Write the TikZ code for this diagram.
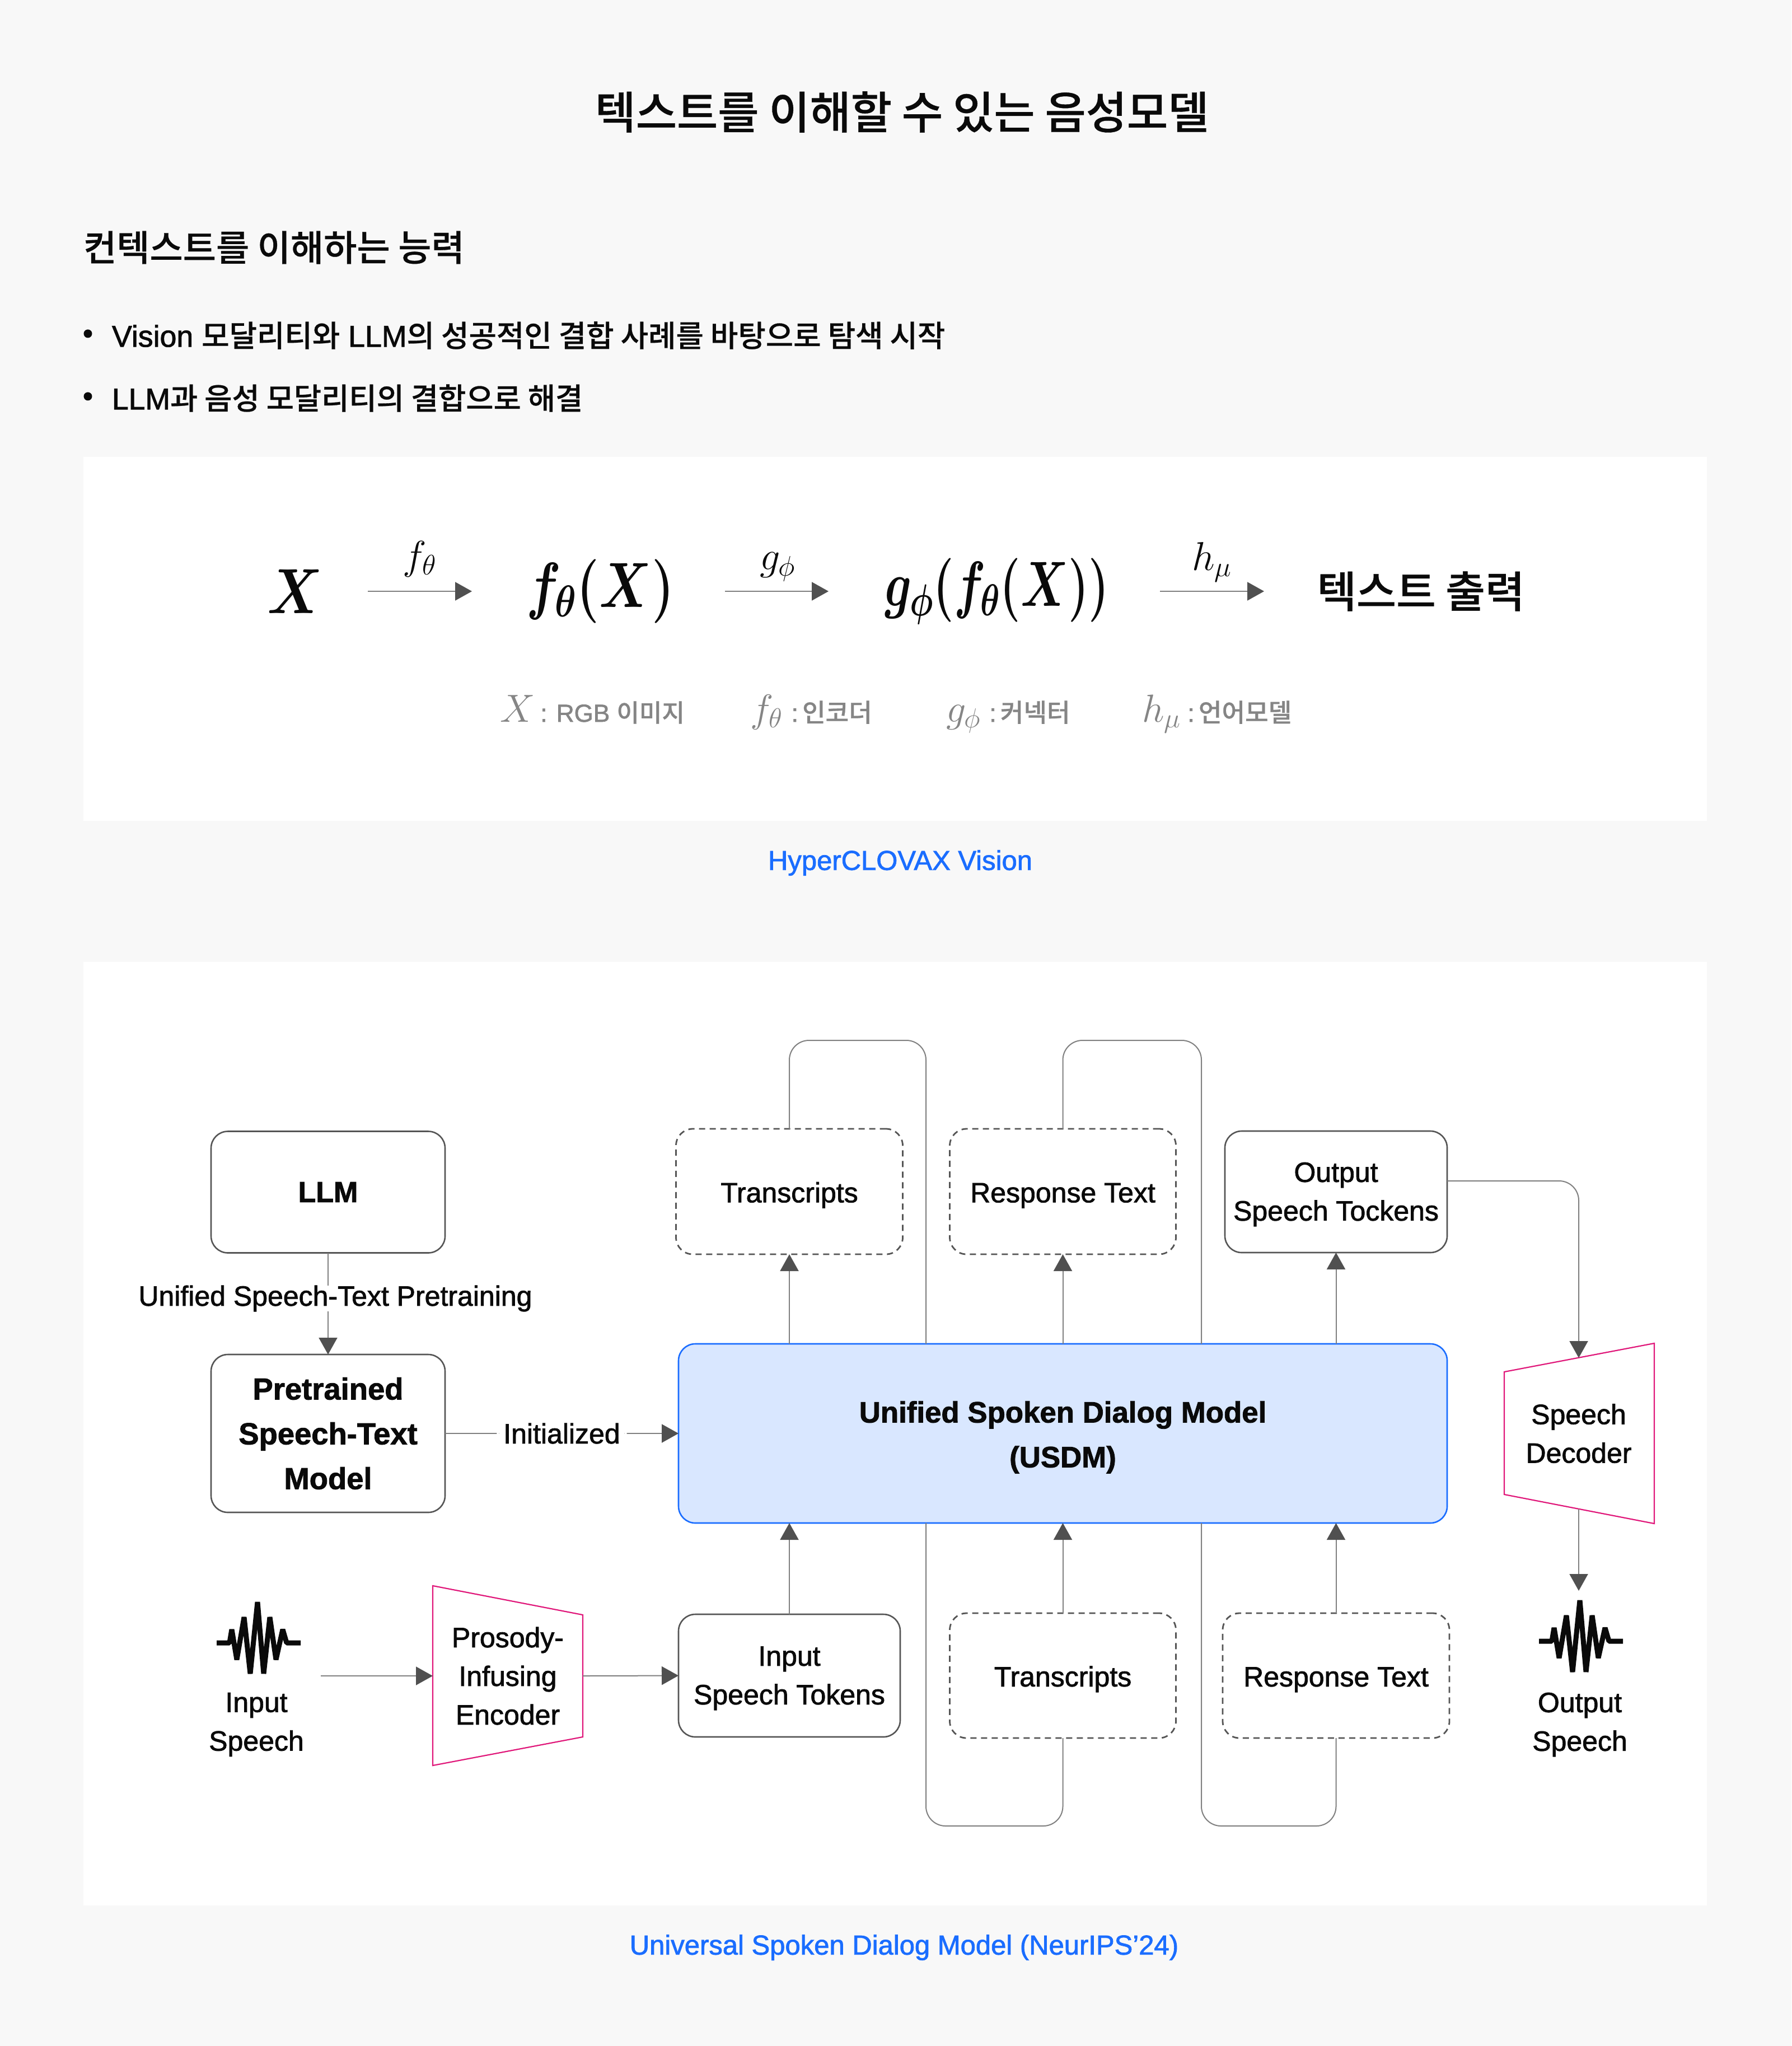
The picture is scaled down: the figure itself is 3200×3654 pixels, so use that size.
\documentclass[tikz,border=0pt]{standalone}
\usepackage{fix-cm}
\usepackage{fontspec}
\usepackage{xcolor}
\usetikzlibrary{arrows.meta}
\setmainfont{Liberation Sans}[FakeBold=1.6]
\newfontfamily\krfont{Noto Sans CJK KR Medium}[FakeBold=0.5]
\newcommand{\kr}[1]{{\krfont #1}}
\newcommand{\lowered}{\rule{0pt}{24.5pt}}
\definecolor{pagebg}{HTML}{F8F8F8}
\definecolor{linegray}{HTML}{808080}
\definecolor{tipgray}{HTML}{505050}
\definecolor{boxgray}{HTML}{555555}
\definecolor{inkblack}{HTML}{0A0A0A}
\definecolor{softgray}{HTML}{858585}
\definecolor{linkblue}{HTML}{1A6DFF}
\definecolor{modelfill}{HTML}{D9E7FF}
\definecolor{trapink}{HTML}{E0187A}

\begin{document}
\begin{tikzpicture}[x=0.5pt,y=-0.5pt]

\tikzset{every node/.style = {text=inkblack,inner sep=0pt,outer sep=0pt,align=center}}
\tikzset{box/.style = {draw=boxgray,line width=1.3pt,rounded corners=15pt,font=\fontsize{25}{34.5}\selectfont}}
\tikzset{dashbox/.style = {box,line width=1.4pt,dash pattern=on 5.5pt off 4pt}}
\tikzset{boldbox/.style = {box,font=\fontsize{27.2}{40}\selectfont\bfseries}}
\tikzset{plain/.style = {font=\fontsize{25}{34.5}\selectfont}}
\tikzset{trap/.style = {draw=trapink,line width=1.1pt,line join=miter,fill=white}}
\tikzset{wire/.style = {draw=linegray,line width=1pt,rounded corners=17.5pt}}
\tikzset{edge/.style = {wire,-{Triangle[length=15pt,width=16.5pt,color=tipgray]}}}
\tikzset{bigmath/.style = {font=\fontsize{57}{60}\selectfont\boldmath}}
\tikzset{smallmath/.style = {font=\fontsize{36}{40}\selectfont}}
\tikzset{legend/.style = {text=softgray,anchor=base west,font=\fontsize{22}{30}\selectfont}}
\tikzset{caption/.style = {text=linkblue,font=\fontsize{24.5}{30}\selectfont}}
\tikzset{wave/.pic = {
  \draw[inkblack,line width=4.5pt,line join=bevel] (-75,0) -- (-52,0) -- (-48,-24) -- (-39,30) -- (-26,-46) -- (-15,55)
    -- (-2,-73) -- (9,55) -- (20,-46) -- (31,30) -- (43,-24) -- (50,0) -- (75,0);
}}

\fill[pagebg] (0,0) rectangle (3200,3654);
\fill[white] (149,816) rectangle (3049,1466);
\fill[white] (149,1718) rectangle (3049,3403);

%headings
\node[font=\fontsize{39.8}{48}\selectfont] (title) at (1611,200) {\kr{텍스트를 이해할 수 있는 음성모델}};
\node[anchor=west,font=\fontsize{32.2}{40}\selectfont] (subtitle) at (149,442) {\kr{컨텍스트를 이해하는 능력}};
\node[font=\fontsize{26}{30}\selectfont] (dot1) at (157,601) {•};
\node[anchor=west,font=\fontsize{26.85}{32}\selectfont] (point1) at (200,599) {Vision \kr{모달리티와} LLM\kr{의 성공적인 결합 사례를 바탕으로 탐색 시작}};
\node[font=\fontsize{26}{30}\selectfont] (dot2) at (157,713) {•};
\node[anchor=west,font=\fontsize{26.75}{32}\selectfont] (point2) at (200,711) {LLM\kr{과 음성 모달리티의 결합으로 해결}};

%formula row
\node[bigmath,minimum width=130pt] (x) at (527,1056) {\scalebox{.85}[1]{$X$}};
\node[bigmath,minimum width=226pt] (fx) at (1069,1056) {\hspace{3pt}\scalebox{.8}[1]{$f_{\theta}\bigl(X\bigr)$}};
\node[bigmath,minimum width=296pt] (gfx) at (1776,1056) {\hspace{4.7pt}\scalebox{.73}[1]{$g_{\phi}\bigl(f_{\theta}\bigl(X\bigr)\bigr)$}};
\node[minimum width=280pt,font=\fontsize{38.5}{44}\selectfont] (text) at (2538,1056) {\kr{텍스트 출력}};
\node[smallmath] (flabel) at (750,998) {$f_{\theta}$};
\node[smallmath] (glabel) at (1389,1012) {$g_{\phi}$};
\node[smallmath] (hlabel) at (2165,1004) {$h_{\mu}$};
\node[legend] (lx) at (893,1289) {\fontsize{35}{40}\selectfont$X$\hspace{5pt}\fontsize{22}{30}\selectfont: RGB \kr{이미지}};
\node[legend] (lf) at (1340,1289) {\fontsize{35}{40}\selectfont$f_{\theta}$\hspace{7.5pt}\fontsize{22.6}{30}\selectfont:\hspace{3.5pt}\kr{인코더}};
\node[legend] (lg) at (1690,1289) {\fontsize{35}{40}\selectfont$g_{\phi}$\hspace{7.5pt}\fontsize{22.6}{30}\selectfont:\hspace{3.5pt}\kr{커넥터}};
\node[legend] (lh) at (2040,1289) {\fontsize{35}{40}\selectfont$h_{\mu}$\hspace{6pt}\fontsize{22.6}{30}\selectfont:\hspace{3.5pt}\kr{언어모델}};
\node[caption] (cap1) at (1608,1541) {HyperCLOVAX Vision};

%model nodes
\node[box,minimum width=209pt,minimum height=108.5pt,font=\fontsize{26}{40}\selectfont\bfseries] (llm) at (586,2129) {LLM};
\node[boldbox,minimum width=209pt,minimum height=141pt] (pre) at (586,2560) {Pretrained\\Speech-Text\\Model};
\node[boldbox,draw=linkblue,fill=modelfill,minimum width=686.5pt,minimum height=160pt,font=\fontsize{26.4}{40}\selectfont\bfseries] (usdm) at (1898.5,2560) {\rule{0pt}{26pt}Unified Spoken Dialog Model\\(USDM)};
\node[dashbox,minimum width=202.5pt,minimum height=112pt] (trtop) at (1410,2128) {\lowered Transcripts};
\node[dashbox,minimum width=202pt,minimum height=112pt] (retop) at (1898.5,2128) {\lowered Response Text};
\node[box,minimum width=198.5pt,minimum height=108.5pt] (outtok) at (2386.5,2128.5) {\rule{0pt}{22pt}Output\\Speech Tockens};
\node[box,minimum width=198pt,minimum height=109.5pt] (intok) at (1410,2992.5) {\rule{0pt}{22pt}Input\\Speech Tokens};
\node[dashbox,minimum width=202pt,minimum height=111.5pt] (trbot) at (1898.5,2992.5) {\lowered Transcripts};
\node[dashbox,minimum width=202.5pt,minimum height=111.5pt] (rebot) at (2386.5,2992.5) {\lowered Response Text};

%trapezoids
\draw[trap] (773,2832) -- (1041,2884) -- (1041,3102) -- (773,3153) -- cycle;
\draw[trap] (2687,2450) -- (2955,2399) -- (2955,2721) -- (2687,2669) -- cycle;
\node[plain,minimum width=134pt] (enc) at (907,2993) {Prosody-\\Infusing\\Encoder};
\node[plain,minimum height=135pt] (dec) at (2820,2560) {Speech\\Decoder};

%waves
\pic at (462,2934) {wave};
\pic at (2824,2931) {wave};
\node[plain] (inlabel) at (458,3080) {Input\\Speech};
\node[plain] (outlabel) at (2822,3080) {Output\\Speech};
\coordinate (instart) at (573,2993);
\coordinate (outend) at (2820,2841);
\coordinate (looptr) at (1654,1858);
\coordinate (loopre) at (2146,1858);
\coordinate (backtr) at (1654,3261);
\coordinate (backre) at (2146,3261);
\coordinate (turn) at (2820,2109);

%edges
\draw[edge] (llm) -- (pre);
\node[plain,fill=white] (pretrain) at (599,2319) {Unified Speech-Text Pretraining};
\draw[edge] (pre) -- (usdm) node[plain,midway,fill=white,inner xsep=6pt] (init) {Initialized};
\draw[edge] (trtop.south |- usdm.north) -- (trtop.south);
\draw[edge] (retop.south |- usdm.north) -- (retop.south);
\draw[edge] (outtok.south |- usdm.north) -- (outtok.south);
\draw[edge] (intok.north) -- (intok.north |- usdm.south);
\draw[edge] (trbot.north) -- (trbot.north |- usdm.south);
\draw[edge] (rebot.north) -- (rebot.north |- usdm.south);
\draw[wire] (trtop.north) |- (looptr) -- (looptr |- usdm.north);
\draw[wire] (retop.north) |- (loopre) -- (loopre |- usdm.north);
\draw[wire] (trbot.south) |- (backtr) -- (backtr |- usdm.south);
\draw[wire] (rebot.south) |- (backre) -- (backre |- usdm.south);
\draw[edge] (outtok.east |- turn) -- (turn) -- (dec.north);
\draw[edge] (dec.south) -- (outend);
\draw[edge] (instart) -- (enc.west);
\draw[edge] (enc.east) -- (intok.west);
\draw[edge] (x.east) -- (fx.west);
\draw[edge] (fx.east) -- (gfx.west);
\draw[edge] (gfx.east) -- (text.west);
\node[caption] (cap2) at (1615,3478) {Universal Spoken Dialog Model (NeurIPS’24)};
\end{tikzpicture}
\end{document}
